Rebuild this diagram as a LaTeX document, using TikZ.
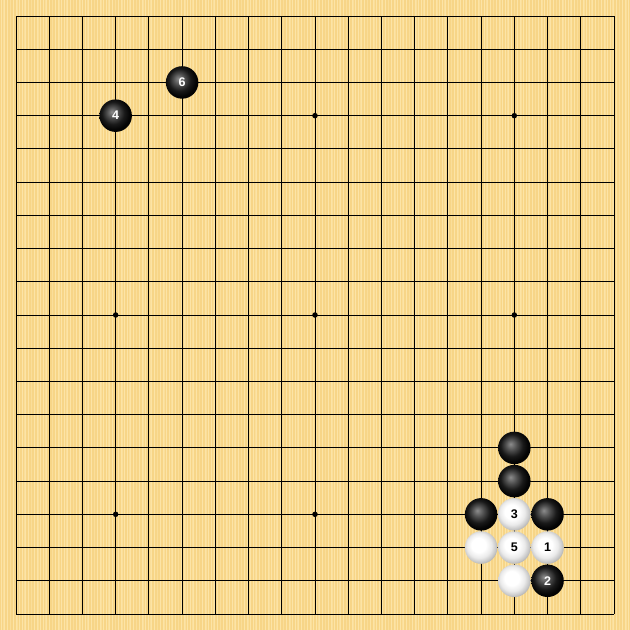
\documentclass[tikz,border=0pt]{standalone}
\usepackage{fontspec}
\setmainfont{Liberation Sans}
\definecolor{board}{HTML}{F7D587}
\definecolor{stripe}{HTML}{FCE4A6}
\pgfdeclareradialshading{blackstone}{\pgfqpoint{-6bp}{6bp}}{color(0bp)=(black!45); color(9bp)=(black!70); color(17bp)=(black!90); color(24bp)=(black!98); color(30bp)=(black); color(50bp)=(black)}
\pgfdeclareradialshading{whitestone}{\pgfqpoint{-5bp}{5bp}}{color(0bp)=(white); color(11bp)=(white); color(19bp)=(black!8); color(25bp)=(black!22); color(31bp)=(black!40); color(50bp)=(black!40)}
\tikzset{
  gridline/.style={line width=1pt, black},
  stonetext/.style={font=\fontsize{12.5}{14}\selectfont\bfseries},
  bstone/.style={circle, minimum size=32.5pt, inner sep=0pt, shading=blackstone, text=white, stonetext},
  wstone/.style={circle, minimum size=32.5pt, inner sep=0pt, shading=whitestone, text=black, stonetext},
  starpt/.style={circle, fill=black, inner sep=0pt, minimum size=5.5pt}
}
\begin{document}
\begin{tikzpicture}[x=1pt,y=-1pt]
\useasboundingbox (0,0) rectangle (630,630);
\fill[board] (0,0) rectangle (630,630);
\foreach \s in {1,4,...,628} {
  \fill[stripe] (\s,0) rectangle (\s+1.2,630);
}
\foreach \s in {2.5,9.5,...,628} {
  \fill[stripe!60!board] (\s,0) rectangle (\s+0.8,630);
}
\def\gs{33.222}
\def\go{16}
\foreach \i in {0,...,18} {
  \draw[gridline] (\go+\i*\gs,\go) -- (\go+\i*\gs,\go+18*\gs);
  \draw[gridline] (\go,\go+\i*\gs) -- (\go+18*\gs,\go+\i*\gs);
}
\foreach \a/\b [count=\k] in {3/3,9/3,15/3,3/9,9/9,15/9,3/15,9/15,15/15} {
  \node[starpt] (star\k) at (\go+\a*\gs,\go+\b*\gs) {};
}
% stones
\node[bstone] (m6) at (\go+5*\gs,\go+2*\gs) {6};
\node[bstone] (m4) at (\go+3*\gs,\go+3*\gs) {4};
\node[bstone] (ba) at (\go+15*\gs,\go+13*\gs) {};
\node[bstone] (bb) at (\go+15*\gs,\go+14*\gs) {};
\node[bstone] (bc) at (\go+14*\gs,\go+15*\gs) {};
\node[wstone] (m3) at (\go+15*\gs,\go+15*\gs) {3};
\node[bstone] (bd) at (\go+16*\gs,\go+15*\gs) {};
\node[wstone] (wa) at (\go+14*\gs,\go+16*\gs) {};
\node[wstone] (m5) at (\go+15*\gs,\go+16*\gs) {5};
\node[wstone] (m1) at (\go+16*\gs,\go+16*\gs) {1};
\node[wstone] (wb) at (\go+15*\gs,\go+17*\gs) {};
\node[bstone] (m2) at (\go+16*\gs,\go+17*\gs) {2};
\end{tikzpicture}
\end{document}
